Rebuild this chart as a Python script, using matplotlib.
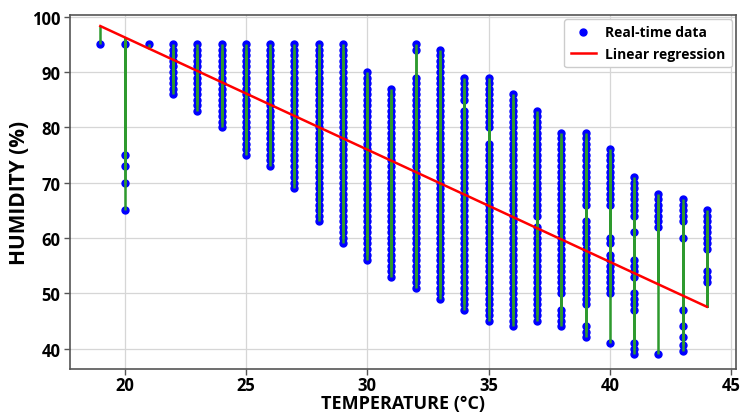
import matplotlib
matplotlib.use("Agg")
import matplotlib.pyplot as plt
import numpy as np

plt.rcParams['font.family'] = ['Open Sans', 'DejaVu Sans']

# ---- data ----
temperatures = [19, 20, 21, 22, 23, 24, 25, 26, 27, 28, 29, 30, 31, 32,
                33, 34, 35, 36, 37, 38, 39, 40, 41, 42, 43, 44]

h19 = [95]
h20 = [65, 70, 73, 75, 95]
h21 = [95]
h22 = [86, 87, 88, 89, 90, 91, 92, 93, 94, 95]
h23 = [83, 84, 85, 86, 87, 88, 89, 90, 91, 92, 93, 94, 95]
h24 = [80, 81, 82, 83, 84, 85, 86, 87, 88, 89, 90, 91, 92, 93, 94, 95]
h25 = [75, 76, 77, 78, 79, 80, 81, 82, 83, 84, 85, 86, 87, 88, 89, 90, 91,
       92, 93, 94, 95]
h26 = [73, 74, 75, 76, 77, 78, 79, 80, 81, 82, 83, 84, 85, 86, 87, 88, 89,
       90, 91, 92, 93, 94, 95]
h27 = [69, 70, 71, 72, 73, 74, 75, 76, 77, 78, 79, 80, 81, 82, 83, 84, 85,
       86, 87, 88, 89, 90, 91, 92, 93, 94, 95]
h28 = [63, 64, 65, 66, 67, 68, 69, 70, 71, 72, 73, 74, 75, 76, 77, 78, 79,
       80, 81, 82, 83, 84, 85, 86, 87, 88, 89, 90, 91, 92, 93, 94, 95]
h29 = [59, 60, 61, 62, 63, 64, 65, 66, 67, 68, 69, 70, 71, 72, 73, 74, 75,
       76, 77, 78, 79, 80, 81, 82, 83, 84, 85, 86, 87, 88, 89, 90, 91, 92,
       93, 94, 95]
h30 = [56, 57, 58, 59, 60, 61, 62, 63, 64, 65, 66, 67, 68, 69, 70, 71, 72,
       73, 74, 75, 76, 77, 78, 79, 80, 81, 82, 83, 84, 85, 86, 87, 88, 89, 90]
h31 = [53, 54, 55, 56, 57, 58, 59, 60, 61, 62, 63, 64, 65, 66, 67, 68, 69,
       70, 71, 72, 73, 74, 75, 76, 77, 78, 79, 80, 81, 82, 83, 84, 85, 86, 87]
h32 = [51, 52, 53, 54, 55, 56, 57, 58, 59, 60, 61, 62, 63, 64, 65, 66, 67,
       68, 69, 70, 71, 72, 73, 74, 75, 76, 77, 78, 79, 80, 81, 82, 83, 84,
       85, 86, 87, 88, 89, 94, 95]
h33 = [49, 50, 51, 52, 53, 54, 55, 56, 57, 58, 59, 60, 61, 62, 63, 64, 65,
       66, 67, 68, 69, 70, 71, 72, 73, 74, 75, 76, 77, 78, 79, 80, 81, 82,
       83, 84, 85, 86, 87, 88, 89, 90, 91, 92, 93, 94]
h34 = [47, 48, 49, 50, 51, 52, 53, 54, 55, 56, 57, 58, 59, 60, 61, 62, 63,
       64, 65, 66, 67, 68, 69, 70, 71, 72, 73, 74, 75, 76, 77, 78, 79, 80,
       81, 82, 83, 85, 86, 87, 88, 89]
h35 = [45, 46, 47, 48, 49, 50, 51, 52, 53, 54, 55, 56, 57, 58, 59, 60, 61,
       62, 63, 64, 65, 66, 67, 68, 69, 70, 71, 72, 73, 74, 75, 76, 77, 80,
       81, 82, 83, 84, 85, 86, 87, 88, 89]
h36 = [44, 45, 46, 47, 48, 49, 50, 51, 52, 53, 54, 55, 56, 57, 58, 59, 60,
       61, 62, 63, 64, 65, 66, 67, 68, 69, 70, 71, 72, 73, 74, 75, 76, 77,
       78, 79, 80, 81, 82, 83, 84, 85, 86]
h37 = [45, 46, 47, 48, 49, 50, 51, 52, 53, 54, 55, 56, 57, 58, 59, 60, 61,
       62, 64, 65, 66, 67, 68, 69, 70, 71, 72, 73, 74, 75, 76, 77, 78, 79,
       80, 81, 82, 83]
h38 = [44, 45, 46, 47, 50, 51, 52, 53, 54, 55, 56, 57, 58, 59, 60, 61, 62,
       63, 64, 65, 66, 67, 68, 69, 70, 71, 72, 73, 74, 75, 76, 77, 78, 79]
h39 = [42, 43, 44, 48, 49, 50, 51, 52, 53, 54, 55, 56, 57, 58, 59, 60, 61,
       62, 63, 66, 67, 68, 69, 70, 71, 72, 73, 74, 75, 76, 77, 78, 79]
h40 = [41, 50, 51, 52, 53, 54, 55, 56, 57, 59, 60, 66, 67, 68, 69, 70, 71,
       72, 73, 74, 75, 76]
h41 = [39, 40, 41, 47, 48, 49, 50, 53, 54, 55, 56, 61, 64, 65, 66, 67, 68,
       69, 70, 71]
h42 = [39, 62, 63, 64, 65, 66, 67, 68]
h43 = [39.5, 40.6, 42, 44, 47, 60, 63, 64, 65, 66, 67]
h44 = [52, 53, 54, 58, 59, 60, 61, 62, 63, 64, 65]

humidity_columns = [h19, h20, h21, h22, h23, h24, h25, h26, h27, h28, h29,
                    h30, h31, h32, h33, h34, h35, h36, h37, h38, h39, h40,
                    h41, h42, h43, h44]

# regression line coefficients
reg_slope = -2.03
reg_intercept = 136.87

x_ticks = [20, 25, 30, 35, 40, 45]
y_ticks = [40, 50, 60, 70, 80, 90, 100]

# ---- build arrays ----
xs = np.concatenate([[t] * len(h) for t, h in zip(temperatures, humidity_columns)]).astype(float)
ys = np.concatenate([np.asarray(h, dtype=float) for h in humidity_columns])
yhat = reg_intercept + reg_slope * xs

# ---- figure ----
fig = plt.figure(figsize=(7.43, 4.14), dpi=100)
ax = fig.add_axes([70 / 743, 44 / 414, 666 / 743, 354 / 414])

ax.grid(True, color='#d6d6d6', linewidth=0.9, zorder=0)
ax.set_axisbelow(True)

ax.plot(xs, ys, 'o', color='blue', markersize=5.0, linestyle='none',
        label='Real-time data', zorder=2)
ax.vlines(xs, ys, yhat, color='#2e9a2e', linewidth=1.8, zorder=3)
line_x = np.array([min(temperatures), max(temperatures)], dtype=float)
ax.plot(line_x, reg_intercept + reg_slope * line_x, color='red',
        linewidth=1.8, label='Linear regression', zorder=4)

ax.set_xlim(17.75, 45.2)
ax.set_ylim(36.3, 100.3)
ax.set_xticks(x_ticks)
ax.set_yticks(y_ticks)
for lab in ax.get_xticklabels() + ax.get_yticklabels():
    lab.set_fontweight('bold')
    lab.set_fontsize(12)
ax.tick_params(axis='x', length=4, width=1, color='#555555', pad=1)
ax.tick_params(axis='y', length=4, width=1, color='#555555', pad=3)
for s in ax.spines.values():
    s.set_color('#555555')
    s.set_linewidth(1.2)

ax.set_xlabel('TEMPERATURE (°C)', fontsize=13, fontweight='bold')
ax.xaxis.label.set_verticalalignment('baseline')
ax.xaxis.set_label_coords(0.5, (370 - 409) / 354)
ax.set_ylabel('HUMIDITY (%)', fontsize=15, fontweight='bold')
ax.yaxis.label.set_verticalalignment('center')
ax.yaxis.set_label_coords((20 - 70) / 666, 0.5)

leg = ax.legend(loc='upper right', prop={'weight': 'bold', 'size': 10},
                framealpha=1, edgecolor='#cccccc', fancybox=True,
                borderaxespad=0.3, labelspacing=0.55, handlelength=1.8,
                handletextpad=0.7, borderpad=0.45)

fig.savefig('out.png', dpi=100)
